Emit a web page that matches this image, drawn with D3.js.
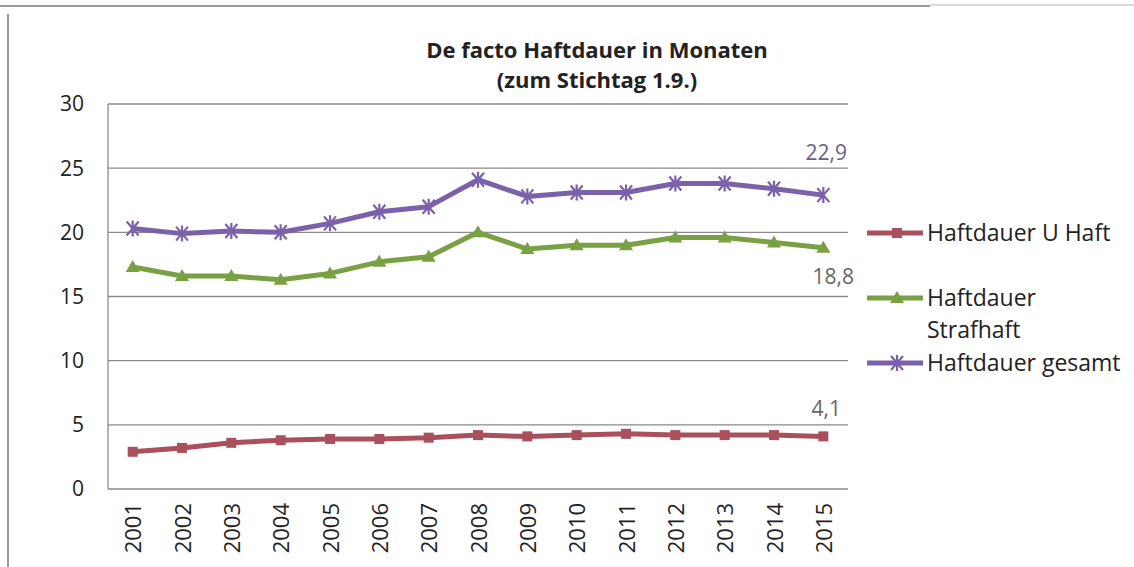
<!DOCTYPE html>
<html>
<head>
<meta charset="utf-8">
<script src="https://cdn.jsdelivr.net/npm/d3@7"></script>
<style>
  body { margin: 0; background: #fff; }
  text { font-family: "Open Sans", sans-serif; fill: #222; }
</style>
</head>
<body>
<div id="chart"></div>
<script>
// De facto Haftdauer chart

const years = ["2001","2002","2003","2004","2005","2006","2007","2008","2009","2010","2011","2012","2013","2014","2015"];
const uHaft     = [2.9, 3.2, 3.6, 3.8, 3.9, 3.9, 4.0, 4.2, 4.1, 4.2, 4.3, 4.2, 4.2, 4.2, 4.1];
const strafhaft = [17.3, 16.6, 16.6, 16.3, 16.8, 17.7, 18.1, 20.0, 18.7, 19.0, 19.0, 19.6, 19.6, 19.2, 18.8];
const gesamt    = [20.3, 19.9, 20.1, 20.0, 20.7, 21.6, 22.0, 24.1, 22.8, 23.1, 23.1, 23.8, 23.8, 23.4, 22.9];
const yTicks = [0, 5, 10, 15, 20, 25, 30];

const series = [
  {name: ["Haftdauer U Haft"], values: uHaft, color: "#a9505c", marker: "square", label: "4,1"},
  {name: ["Haftdauer", "Strafhaft"], values: strafhaft, color: "#79a042", marker: "triangle", label: "18,8"},
  {name: ["Haftdauer gesamt"], values: gesamt, color: "#7b61a9", marker: "cross", label: "22,9"}
];

const W = 1134, H = 567;
const margin = {top: 104, right: 286, bottom: 78, left: 108};

const svg = d3.select("#chart")
  .append("svg")
  .attr("width", W)
  .attr("height", H);

// scan frame
svg.append("line").attr("x1", 0).attr("x2", 930).attr("y1", 6).attr("y2", 6)
  .attr("stroke", "#999").attr("stroke-width", 2);
svg.append("line").attr("x1", 930).attr("x2", 1134).attr("y1", 5).attr("y2", 5)
  .attr("stroke", "#ccc").attr("stroke-width", 1.5);
svg.append("line").attr("x1", 8).attr("x2", 8).attr("y1", 14).attr("y2", H)
  .attr("stroke", "#999").attr("stroke-width", 2);

const x = d3.scaleBand().domain(years).range([margin.left, W - margin.right]);
const y = d3.scaleLinear().domain([0, 30]).range([H - margin.bottom, margin.top]);

// gridlines
svg.append("g")
  .selectAll("line")
  .data(yTicks)
  .join("line")
    .attr("x1", margin.left)
    .attr("x2", W - margin.right)
    .attr("y1", d => y(d))
    .attr("y2", d => y(d))
    .attr("stroke", "#8a8a8a")
    .attr("stroke-width", 1.3);

// y axis line
svg.append("line")
  .attr("x1", margin.left).attr("x2", margin.left)
  .attr("y1", y(30)).attr("y2", y(0))
  .attr("stroke", "#8a8a8a").attr("stroke-width", 1.3);

// y tick labels
svg.append("g")
  .selectAll("text")
  .data(yTicks)
  .join("text")
    .attr("x", 84)
    .attr("y", d => y(d))
    .attr("dy", "0.35em")
    .attr("text-anchor", "end")
    .style("font-size", "21px")
    .text(d => d);

// x tick labels (rotated)
svg.append("g")
  .selectAll("text")
  .data(years)
  .join("text")
    .attr("transform", d => `translate(${x(d) + x.bandwidth() / 2 + 1},${y(0) + 14}) rotate(-90)`)
    .attr("dy", "0.35em")
    .attr("text-anchor", "end")
    .style("font-size", "22px")
    .text(d => d);

const cx = (d, i) => x(years[i]) + x.bandwidth() / 2;
const line = d3.line().x((d, i) => cx(d, i)).y(d => y(d));

function drawMarker(g, type, color) {
  if (type === "square") {
    g.append("rect").attr("x", -5).attr("y", -5).attr("width", 10).attr("height", 10)
      .attr("fill", color);
  } else if (type === "triangle") {
    g.append("path").attr("d", "M0,-7L7,5L-7,5Z").attr("fill", color);
  } else {
    g.append("path").attr("d", "M-6,-7L6,7M-6,7L6,-7M0,-8L0,8")
      .attr("stroke", color).attr("stroke-width", 2.2).attr("fill", "none");
  }
}

series.forEach(s => {
  svg.append("path")
    .datum(s.values)
    .attr("fill", "none")
    .attr("stroke", s.color)
    .attr("stroke-width", 5)
    .attr("stroke-linejoin", "round")
    .attr("d", line);

  svg.append("g")
    .selectAll("g")
    .data(s.values)
    .join("g")
      .attr("transform", (d, i) => `translate(${cx(d, i)},${y(d)})`)
      .each(function() { drawMarker(d3.select(this), s.marker, s.color); });
});

// data labels on the last point
const last = years.length - 1;
const labelOffsets = [-28, 29, -42];
svg.append("g")
  .selectAll("text")
  .data(series)
  .join("text")
    .attr("x", d => cx(null, last) + (d.marker === "triangle" ? 10 : 3))
    .attr("y", (d, i) => y(d.values[last]) + labelOffsets[i])
    .attr("dy", "0.35em")
    .attr("text-anchor", "middle")
    .style("font-size", "21px")
    .style("fill", d => d.marker === "cross" ? "#6a6090" : "#666")
    .text(d => d.label);

// legend
const legendRows = [233, 298, 363];
const legend = svg.append("g");
series.forEach((s, i) => {
  const g = legend.append("g").attr("transform", `translate(867,${legendRows[i]})`);
  g.append("line").attr("x1", 0).attr("x2", 56).attr("stroke", s.color).attr("stroke-width", 5);
  const m = g.append("g").attr("transform", "translate(30,0)");
  drawMarker(m, s.marker, s.color);
  s.name.forEach((t, j) => {
    g.append("text")
      .attr("x", 60)
      .attr("y", j * 32)
      .attr("dy", "0.35em")
      .style("font-size", "23px")
      .text(t);
  });
});

// title
const title = svg.append("text")
  .attr("text-anchor", "middle")
  .style("font-size", "22px")
  .style("font-weight", "bold");
title.append("tspan").attr("x", 597).attr("y", 58).text("De facto Haftdauer in Monaten");
title.append("tspan").attr("x", 597).attr("y", 88).text("(zum Stichtag 1.9.)");
</script>
</body>
</html>
